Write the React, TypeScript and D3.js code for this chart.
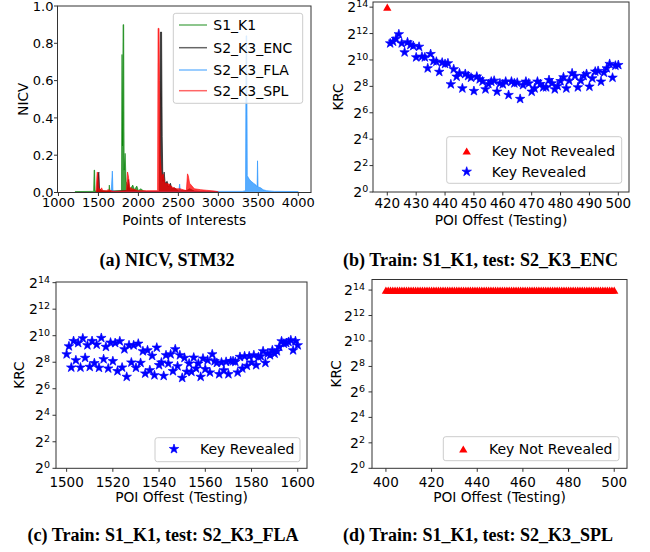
import React from 'react';
import * as d3 from 'd3';

// ---- (a) NICV traces: [point of interest, nicv] ----
const nicvSeries = ['S1_K1', 'S2_K3_ENC', 'S2_K3_FLA', 'S2_K3_SPL'];
const nicvColors = ['#008000', '#000000', '#1e90ff', '#ff0000'];

const s1k1Trace: [number, number][] = [
  [1200, 0], [1210, 0.005], [1440, 0.006], [1446, 0.12], [1452, 0.12], [1458, 0.008],
  [1560, 0.008], [1630, 0.008], [1636, 0.04], [1644, 0.008], [1788, 0.01], [1795, 0.74],
  [1801, 0.25], [1808, 0.9], [1816, 0.9], [1822, 0.12], [1834, 0.21], [1846, 0.06],
  [1870, 0.03], [1900, 0.02], [1930, 0.04], [1950, 0.015], [1980, 0.035], [2000, 0.01],
  [2030, 0.02], [2060, 0.01], [2100, 0.005], [2110, 0],
];
const encTrace: [number, number][] = [
  [1480, 0.005], [1498, 0.1], [1506, 0.11], [1514, 0.02], [1540, 0.01], [1600, 0.005],
  [1860, 0.01], [1878, 0.07], [1890, 0.01], [1950, 0.012], [2000, 0.005], [2262, 0.005],
  [2270, 0.5], [2276, 0.86], [2290, 0.86], [2298, 0.3], [2306, 0.06], [2322, 0.11],
  [2335, 0.05], [2360, 0.06], [2375, 0.03], [2400, 0.05], [2420, 0.02], [2450, 0.025],
  [2500, 0.01], [2600, 0.01], [2640, 0.02], [2700, 0.008], [2800, 0.004], [3000, 0.002],
];
const flaTrace: [number, number][] = [
  [1660, 0.005], [1674, 0.115], [1682, 0.01], [1700, 0.005], [2505, 0.005], [2516, 0.045],
  [2526, 0.005], [2990, 0.006], [3300, 0.006], [3340, 0.01], [3347, 0.84], [3355, 0.84],
  [3362, 0.09], [3375, 0.08], [3390, 0.07], [3410, 0.06], [3440, 0.05], [3470, 0.04],
  [3485, 0.03], [3490, 0.17], [3497, 0.03], [3530, 0.025], [3560, 0.015], [3600, 0.01],
  [3700, 0.006], [4000, 0.005],
];
const splTrace: [number, number][] = [
  [1470, 0.005], [1484, 0.11], [1492, 0.105], [1500, 0.03], [1520, 0.01], [1540, 0.025],
  [1555, 0.01], [1600, 0.01], [1620, 0.015], [1700, 0.005], [1850, 0.01], [1864, 0.11],
  [1874, 0.09], [1890, 0.03], [1920, 0.02], [2000, 0.01], [2100, 0.01], [2240, 0.01],
  [2246, 0.88], [2258, 0.88], [2264, 0.6], [2272, 0.2], [2290, 0.08], [2310, 0.1],
  [2330, 0.05], [2380, 0.045], [2420, 0.03], [2470, 0.02], [2520, 0.02], [2600, 0.01],
  [2614, 0.1], [2624, 0.09], [2640, 0.05], [2670, 0.035], [2700, 0.02], [2780, 0.015],
  [2850, 0.012], [2950, 0.008], [3000, 0.004],
];
const nicvTraces = [s1k1Trace, encTrace, flaTrace, splTrace];
const poiTicks = [1000, 1500, 2000, 2500, 3000, 3500, 4000];
const nicvTicks = [0, 0.2, 0.4, 0.6, 0.8, 1.0];

// ---- (b) test S2_K3_ENC: log2(KRC) per POI offset ----
const encNotRevealedOffsets = [420];
const encNotRevealedLog2 = [14];
const encOffsets = d3.range(421, 501);
const encLog2Krc = [
  11.26, 11.39, 11.6, 11.95, 11.26, 10.58, 11.34, 11.14, 11.06, 10.2,
  11.0, 10.25, 10.2, 9.37, 10.45, 9.92, 9.87, 9.1, 9.8, 9.7,
  9.75, 8.16, 9.3, 8.74, 8.99, 7.85, 8.94, 8.79, 8.66, 7.65,
  8.74, 8.54, 8.38, 7.78, 8.18, 8.36, 8.43, 7.6, 8.23, 8.16,
  8.36, 7.35, 8.36, 8.23, 8.28, 7.05, 8.1, 8.36, 8.23, 7.6,
  7.85, 8.36, 8.18, 7.93, 7.93, 8.48, 8.23, 7.78, 8.03, 8.4,
  8.69, 7.85, 8.43, 8.99, 8.79, 7.93, 8.43, 8.79, 8.94, 7.98,
  8.61, 9.12, 9.17, 8.36, 9.04, 9.37, 9.7, 8.66, 9.57, 9.62,
];

// ---- (c) test S2_K3_FLA ----
const flaOffsets = d3.range(1500, 1601);
const flaLog2Krc = [
  8.6, 9.2, 7.6, 9.6, 8.15, 9.45, 7.6, 9.8, 8.33, 9.28,
  7.65, 9.6, 7.93, 9.33, 7.58, 9.83, 8.23, 9.16, 7.53, 9.48,
  8.08, 9.45, 7.33, 9.58, 7.6, 8.98, 6.9, 9.28, 7.98, 9.28,
  7.58, 9.4, 7.95, 8.83, 7.15, 8.9, 7.4, 8.48, 7.02, 9.1,
  7.78, 7.98, 6.97, 8.53, 7.9, 8.6, 7.33, 8.98, 7.7, 8.53,
  6.82, 8.33, 7.28, 7.9, 7.28, 8.35, 7.53, 7.9, 6.9, 8.28,
  7.48, 8.15, 7.23, 8.6, 8.08, 7.95, 7.1, 7.98, 7.4, 8.03,
  7.1, 8.08, 8.08, 8.03, 7.23, 8.4, 7.53, 8.45, 7.73, 8.45,
  7.98, 8.53, 7.78, 8.4, 8.45, 8.83, 7.95, 8.65, 8.53, 8.9,
  8.65, 8.83, 9.16, 9.58, 9.4, 9.45, 9.53, 9.66, 8.9, 9.6,
  9.28,
];

// ---- (d) test S2_K3_SPL: key never revealed ----
const splOffsets = d3.range(400, 501);
const splLog2Krc = [
  14, 14, 14, 14, 14, 14, 14, 14, 14, 14, 14, 14, 14, 14, 14, 14, 14, 14, 14, 14,
  14, 14, 14, 14, 14, 14, 14, 14, 14, 14, 14, 14, 14, 14, 14, 14, 14, 14, 14, 14,
  14, 14, 14, 14, 14, 14, 14, 14, 14, 14, 14, 14, 14, 14, 14, 14, 14, 14, 14, 14,
  14, 14, 14, 14, 14, 14, 14, 14, 14, 14, 14, 14, 14, 14, 14, 14, 14, 14, 14, 14,
  14, 14, 14, 14, 14, 14, 14, 14, 14, 14, 14, 14, 14, 14, 14, 14, 14, 14, 14, 14,
  14,
];

const krcExpTicks = [0, 2, 4, 6, 8, 10, 12, 14];
const encTicks = [420, 430, 440, 450, 460, 470, 480, 490, 500];
const flaTicks = [1500, 1520, 1540, 1560, 1580, 1600];
const splTicks = [400, 420, 440, 460, 480, 500];

const FONT = "'DejaVu Sans', sans-serif";
const SPINE = '#333';

type Box = { left: number; right: number; top: number; bottom: number };

const starPath = d3.symbol().type(d3.symbolStar).size(28)()!;
const triPath = d3.symbol().type(d3.symbolTriangle).size(30)()!;
const TRI_SHIFT = 1.2;

const Star = ({ x, y }: { x: number; y: number }) => (
  <path d={starPath} transform={`translate(${x},${y})`} fill="#0000ff" stroke="#0000ff" strokeWidth={0.7} strokeLinejoin="round" />
);
const Tri = ({ x, y }: { x: number; y: number }) => (
  <path d={triPath} transform={`translate(${x},${y + TRI_SHIFT})`} fill="#ff0000" />
);

const LegendBox = ({ x, y, w, h }: { x: number; y: number; w: number; h: number }) => (
  <rect x={x} y={y} width={w} height={h} rx={2.5} fill="#fff" fillOpacity={0.8} stroke="#ccc" strokeWidth={1} />
);

function NicvPanel() {
  const box: Box = { left: 57.5, right: 311, top: 6, bottom: 192.5 };
  const x = d3.scaleLinear().domain([988, 4159]).range([box.left, box.right]);
  const y = d3.scaleLinear().domain([0, 1]).range([box.bottom, box.top]);
  const area = d3.area<[number, number]>().x(d => x(d[0])).y0(y(0)).y1(d => y(d[1]));
  const line = d3.line<[number, number]>().x(d => x(d[0])).y(d => y(d[1]));
  const legendRows = [25, 47.7, 70, 90.7];
  return (
    <g fontFamily={FONT}>
      <defs>
        <clipPath id="clipA">
          <rect x={box.left} y={box.top} width={box.right - box.left} height={box.bottom - box.top} />
        </clipPath>
      </defs>
      <g clipPath="url(#clipA)">
        {nicvTraces.map((t, i) => (
          <g key={nicvSeries[i]}>
            <path d={area(t)!} fill={nicvColors[i]} fillOpacity={0.75} />
            <path d={line(t)!} fill="none" stroke={nicvColors[i]} strokeOpacity={0.6} strokeWidth={1} />
          </g>
        ))}
      </g>
      <rect x={box.left} y={box.top} width={box.right - box.left} height={box.bottom - box.top} fill="none" stroke={SPINE} strokeWidth={1} />
      {poiTicks.map(t => (
        <g key={t}>
          <line x1={x(t)} x2={x(t)} y1={box.bottom} y2={box.bottom + 3.5} stroke={SPINE} />
          <text x={x(t)} y={box.bottom + 14.5} textAnchor="middle" fontSize={13}>{t}</text>
        </g>
      ))}
      {nicvTicks.map(t => (
        <g key={t}>
          <line x1={box.left - 3.5} x2={box.left} y1={y(t)} y2={y(t)} stroke={SPINE} />
          <text x={box.left - 4} y={y(t) + 4.7} textAnchor="end" fontSize={13}>{t.toFixed(1)}</text>
        </g>
      ))}
      <text x={(box.left + box.right) / 2} y={225} textAnchor="middle" fontSize={13.8}>Points of Interests</text>
      <text transform={`translate(28,${(box.top + box.bottom) / 2}) rotate(-90)`} textAnchor="middle" fontSize={13.5}>NICV</text>
      <LegendBox x={173.3} y={13.3} w={129.4} h={90} />
      {nicvSeries.map((s, i) => (
        <g key={s}>
          <line x1={179} x2={207} y1={legendRows[i]} y2={legendRows[i]} stroke={nicvColors[i]} strokeOpacity={0.6} strokeWidth={1.5} />
          <text x={213.3} y={legendRows[i] + 5} fontSize={14}>{s}</text>
        </g>
      ))}
    </g>
  );
}

type KrcProps = {
  box: Box;
  xDomain: [number, number];
  yTop: number;
  xTicks: number[];
  stars: { offsets: number[]; values: number[] } | null;
  tris: { offsets: number[]; values: number[] } | null;
  xTickBase: number;
  yTickEnd: number;
  yLabelX: number;
  xLabelBase: number;
  legend: { x: number; y: number; w: number; h: number; mx: number; tx: number; rows: { kind: 'tri' | 'star'; y: number; label: string }[] };
};

function KrcPanel(p: KrcProps) {
  const { box } = p;
  const x = d3.scaleLinear().domain(p.xDomain).range([box.left, box.right]);
  const y = d3.scaleLinear().domain([0, p.yTop]).range([box.bottom, box.top]);
  return (
    <g fontFamily={FONT}>
      {p.stars && p.stars.offsets.map((o, i) => <Star key={'s' + o} x={x(o)} y={y(p.stars!.values[i])} />)}
      {p.tris && p.tris.offsets.map((o, i) => <Tri key={'t' + o} x={x(o)} y={y(p.tris!.values[i])} />)}
      <rect x={box.left} y={box.top} width={box.right - box.left} height={box.bottom - box.top} fill="none" stroke={SPINE} strokeWidth={1} />
      {p.xTicks.map(t => (
        <g key={t}>
          <line x1={x(t)} x2={x(t)} y1={box.bottom} y2={box.bottom + 3.5} stroke={SPINE} />
          <text x={x(t)} y={p.xTickBase} textAnchor="middle" fontSize={13.5}>{t}</text>
        </g>
      ))}
      {krcExpTicks.map(e => (
        <g key={e}>
          <line x1={box.left - 3.5} x2={box.left} y1={y(e)} y2={y(e)} stroke={SPINE} />
          <text x={p.yTickEnd} y={y(e) + 5} textAnchor="end" fontSize={14}>
            2<tspan dy={-5} fontSize={9.5}>{e}</tspan>
          </text>
        </g>
      ))}
      <text x={(box.left + box.right) / 2} y={p.xLabelBase} textAnchor="middle" fontSize={13.8}>POI Offest (Testing)</text>
      <text transform={`translate(${p.yLabelX},${(box.top + box.bottom) / 2}) rotate(-90)`} textAnchor="middle" fontSize={13.5}>KRC</text>
      <LegendBox x={p.legend.x} y={p.legend.y} w={p.legend.w} h={p.legend.h} />
      {p.legend.rows.map(r => (
        <g key={r.label}>
          {r.kind === 'tri' ? <Tri x={p.legend.mx} y={r.y} /> : <Star x={p.legend.mx} y={r.y} />}
          <text x={p.legend.tx} y={r.y + 5} fontSize={14}>{r.label}</text>
        </g>
      ))}
    </g>
  );
}

const captions = [
  { text: '(a) NICV, STM32', x: 167, y: 266 },
  { text: '(b) Train: S1_K1, test: S2_K3_ENC', x: 480.5, y: 266 },
  { text: '(c) Train: S1_K1, test: S2_K3_FLA', x: 163, y: 541 },
  { text: '(d) Train: S1_K1, test: S2_K3_SPL', x: 478, y: 541 },
];

export default function App() {
  return (
    <svg width={650} height={552} style={{ position: 'absolute', left: 0, top: 0, background: '#fff' }}>
      <rect width={650} height={552} fill="#fff" />
      <NicvPanel />
      <KrcPanel
        box={{ left: 373, right: 629, top: 2, bottom: 192 }}
        xDomain={[415.05, 503.7]}
        yTop={14.39}
        xTicks={encTicks}
        stars={{ offsets: encOffsets, values: encLog2Krc }}
        tris={{ offsets: encNotRevealedOffsets, values: encNotRevealedLog2 }}
        xTickBase={208}
        yTickEnd={368.3}
        yLabelX={343}
        xLabelBase={225}
        legend={{ x: 446.7, y: 136.7, w: 175, h: 46.6, mx: 466.7, tx: 491.7, rows: [
          { kind: 'tri', y: 151, label: 'Key Not Revealed' },
          { kind: 'star', y: 171.7, label: 'Key Revealed' },
        ] }}
      />
      <KrcPanel
        box={{ left: 56, right: 307, top: 282, bottom: 468.3 }}
        xDomain={[1495.4, 1604]}
        yTop={14.05}
        xTicks={flaTicks}
        stars={{ offsets: flaOffsets, values: flaLog2Krc }}
        tris={null}
        xTickBase={487}
        yTickEnd={50}
        yLabelX={24}
        xLabelBase={502}
        legend={{ x: 155, y: 437.7, w: 145, h: 24, mx: 174, tx: 200, rows: [
          { kind: 'star', y: 449, label: 'Key Revealed' },
        ] }}
      />
      <KrcPanel
        box={{ left: 372, right: 627, top: 279.5, bottom: 468.3 }}
        xDomain={[393.9, 505.6]}
        yTop={14.83}
        xTicks={splTicks}
        stars={null}
        tris={{ offsets: splOffsets, values: splLog2Krc }}
        xTickBase={486.5}
        yTickEnd={365}
        yLabelX={341}
        xLabelBase={502}
        legend={{ x: 443.3, y: 436.7, w: 175.7, h: 24, mx: 463.3, tx: 489, rows: [
          { kind: 'tri', y: 449, label: 'Key Not Revealed' },
        ] }}
      />
      {captions.map(c => (
        <text key={c.text} x={c.x} y={c.y} textAnchor="middle" fontFamily="'Liberation Serif', serif" fontWeight="bold" fontSize={18}>
          {c.text}
        </text>
      ))}
    </svg>
  );
}
